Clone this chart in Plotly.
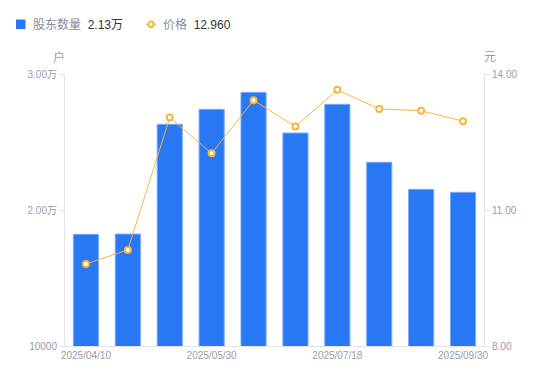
import plotly.graph_objects as go

dates = ["2025/04/10", "2025/04/30", "2025/05/20", "2025/05/30", "2025/06/20",
         "2025/06/30", "2025/07/18", "2025/08/20", "2025/08/29", "2025/09/30"]
holders = [18210, 18230, 26300, 27400, 28650, 25660, 27770, 23510, 21520, 21300]
prices = [9.81, 10.12, 13.04, 12.25, 13.42, 12.84, 13.65, 13.23, 13.19, 12.96]

x_tick_labels = ["2025/04/10", "2025/05/30", "2025/07/18", "2025/09/30"]
left_ticks = [10000, 20000, 30000]
left_tick_text = ["10000", "2.00万", "3.00万"]
right_ticks = [8, 11, 14]
right_tick_text = ["8.00", "11.00", "14.00"]

legend_holder = "2.13万"
legend_price = "12.960"

FONT = "Liberation Sans, Noto Sans CJK SC, sans-serif"
GRAY = "#9b9bab"
AXIS = "#e3e3e8"
BLUE = "#2878f5"
ORANGE = "#f9b43c"

W, H = 550, 381
L, R, T, B = 57, 74, 66, 43
PW, PH = W - L - R, H - T - B


def px(x):
    return (x - L) / PW


def py(y):
    return (H - B - y) / PH


fig = go.Figure()
fig.add_trace(go.Bar(
    x=dates, y=holders, width=0.6, name="股东数量", showlegend=False,
    marker=dict(color=BLUE, line=dict(color="#7aaaf8", width=1)),
    yaxis="y",
))
fig.add_trace(go.Scatter(
    x=dates, y=prices, mode="lines+markers", name="价格", showlegend=False,
    line=dict(color=ORANGE, width=1),
    marker=dict(symbol="circle", size=6, color="#ffffff",
                line=dict(color=ORANGE, width=2)),
    yaxis="y2",
))

# custom legend (figure-pixel positions converted to paper coords)
shapes = [
    dict(type="rect", xref="paper", yref="paper", x0=px(8), x1=px(17.5),
         y0=py(21), y1=py(11.5), fillcolor=BLUE, line=dict(width=0),
         layer="above"),
    dict(type="line", xref="paper", yref="paper", x0=px(138), x1=px(148),
         y0=py(16.3), y1=py(16.3), line=dict(color=ORANGE, width=1)),
    dict(type="circle", xref="paper", yref="paper", x0=px(140.3), x1=px(145.7),
         y0=py(19), y1=py(13.6), fillcolor="white",
         line=dict(color=ORANGE, width=2)),
]

annotations = [
    dict(text=f"股东数量  <span style='color:#333333'>{legend_holder}</span>",
         xref="paper", yref="paper", x=px(23), y=py(16.5), xanchor="left",
         yanchor="middle", showarrow=False, font=dict(size=12, color="#8c8c9c")),
    dict(text=f"价格  <span style='color:#333333'>{legend_price}</span>",
         xref="paper", yref="paper", x=px(153), y=py(16.5), xanchor="left",
         yanchor="middle", showarrow=False, font=dict(size=12, color="#8c8c9c")),
    dict(text="户", xref="paper", yref="paper", x=px(51), y=py(49),
         xanchor="center", yanchor="middle", showarrow=False,
         font=dict(size=12, color=GRAY)),
    dict(text="元", xref="paper", yref="paper", x=px(482), y=py(49),
         xanchor="center", yanchor="middle", showarrow=False,
         font=dict(size=12, color=GRAY)),
]

fig.update_layout(
    width=W, height=H,
    margin=dict(l=L, r=R, t=T, b=B, autoexpand=False),
    paper_bgcolor="white", plot_bgcolor="white",
    font=dict(family=FONT, color=GRAY, size=10),
    showlegend=False,
    xaxis=dict(type="category", range=[-0.5, 9.5], autorange=False,
               tickmode="array", tickvals=x_tick_labels,
               ticktext=x_tick_labels, showline=True, linecolor=AXIS, linewidth=1,
               showgrid=False, ticks="", tickfont=dict(size=10, color=GRAY),
               zeroline=False),
    yaxis=dict(range=[10000, 30000], tickmode="array", tickvals=left_ticks,
               ticktext=left_tick_text, showline=True, linecolor=AXIS, linewidth=1,
               showgrid=False, ticks="outside", ticklen=5, tickcolor=AXIS,
               tickfont=dict(size=10, color=GRAY), zeroline=False),
    yaxis2=dict(range=[8, 14], overlaying="y", side="right", tickmode="array",
                tickvals=right_ticks, ticktext=right_tick_text, showline=True,
                linecolor=AXIS, linewidth=1, showgrid=False, ticks="outside",
                ticklen=5, tickcolor=AXIS, tickfont=dict(size=10, color=GRAY),
                zeroline=False),
    shapes=shapes,
    annotations=annotations,
)

fig.write_html("out.html")
